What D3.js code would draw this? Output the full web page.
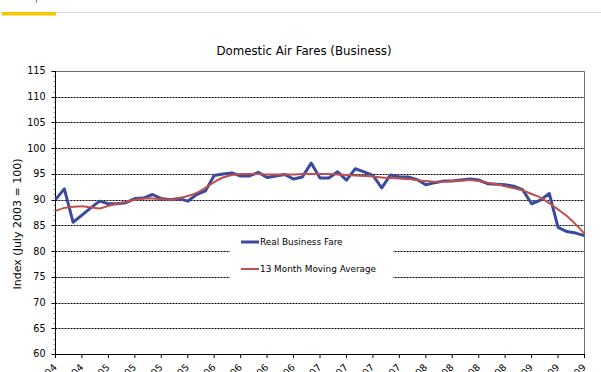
<!DOCTYPE html>
<html>
<head>
<meta charset="utf-8">
<script src="https://cdn.jsdelivr.net/npm/d3@7"></script>
<style>
  body { margin: 0; background: #fff; }
  svg { display: block; font-family: "DejaVu Sans", Verdana, sans-serif; }
</style>
</head>
<body>
<svg id="chart" width="601" height="372"></svg>
<script>
// index values, one per month (Jul 2004 .. Jul 2009), July 2003 = 100
var realFare = [90.0, 92.1, 85.6, 87.0, 88.4, 89.7, 89.2, 89.2, 89.4, 90.2,
    90.3, 91.0, 90.2, 90.0, 90.2, 89.7, 91.0, 91.7, 94.7, 95.0,
    95.2, 94.6, 94.6, 95.3, 94.3, 94.6, 94.9, 94.0, 94.4, 97.1,
    94.2, 94.2, 95.4, 93.8, 96.0, 95.4, 94.7, 92.3, 94.8, 94.4,
    94.4, 93.9, 92.9, 93.3, 93.6, 93.6, 93.8, 94.0, 93.8, 93.1,
    93.0, 92.9, 92.6, 91.9, 89.2, 89.9, 91.2, 84.6, 83.8, 83.5, 83.0];
var movingAvg = [87.8, 88.4, 88.6, 88.7, 88.5, 88.3, 88.8, 89.2, 89.6, 90.0,
    90.2, 90.2, 90.1, 90.0, 90.3, 90.7, 91.3, 92.3, 93.4, 94.3,
    94.8, 95.0, 95.0, 95.0, 94.9, 94.9, 94.9, 94.9, 95.0, 95.0,
    95.0, 95.0, 94.9, 94.8, 94.7, 94.6, 94.5, 94.3, 94.2, 94.1,
    94.0, 93.8, 93.6, 93.5, 93.5, 93.6, 93.7, 93.8, 93.6, 93.3,
    93.0, 92.6, 92.2, 91.8, 91.1, 90.4, 89.3, 88.1, 86.8, 85.2, 83.4];
// quarterly tick labels
var xLabels = ['Jul-04', 'Oct-04', 'Jan-05', 'Apr-05', 'Jul-05', 'Oct-05',
    'Jan-06', 'Apr-06', 'Jul-06', 'Oct-06', 'Jan-07', 'Apr-07', 'Jul-07',
    'Oct-07', 'Jan-08', 'Apr-08', 'Jul-08', 'Oct-08', 'Jan-09', 'Apr-09', 'Jul-09'];
var yTicks = [60, 65, 70, 75, 80, 85, 90, 95, 100, 105, 110, 115];
var seriesNames = ['Real Business Fare', '13 Month Moving Average'];

(function (d3) {
    'use strict';

    var svg = d3.select('#chart');
    var left = 55.5, right = 584.5, top = 71, bottom = 354;

    var x = d3.scaleLinear().domain([0, realFare.length - 1]).range([left, right]);
    var y = d3.scaleLinear().domain([60, 115]).range([bottom, top]);

    // page header decoration
    svg.append('line').attr('x1', 0).attr('x2', 601).attr('y1', 12.5).attr('y2', 12.5)
        .style('stroke', '#dcdcdc').style('stroke-width', 1);
    svg.append('rect').attr('x', 2).attr('y', 12).attr('width', 54).attr('height', 3.5)
        .style('fill', '#f7c600');
    svg.append('line').attr('x1', 36.5).attr('x2', 36.5).attr('y1', 0).attr('y2', 3)
        .style('stroke', '#7a8290');

    // title
    svg.append('text').attr('x', 304).attr('y', 55).attr('text-anchor', 'middle')
        .style('font-size', '11.8px').style('fill', '#000')
        .text('Domestic Air Fares (Business)');

    // gridlines
    svg.append('g').selectAll('line').data(yTicks.filter(function (v) { return v > 60 && v < 115; }))
        .enter().append('line')
        .attr('x1', left).attr('x2', right)
        .attr('y1', function (d) { return Math.round(y(d)) + 0.5; })
        .attr('y2', function (d) { return Math.round(y(d)) + 0.5; })
        .style('stroke', '#000').style('stroke-width', 1).style('stroke-dasharray', '2,1');

    // plot border (top + right)
    svg.append('path')
        .attr('d', 'M' + left + ',' + (top + 0.5) + 'H' + right + 'V' + bottom)
        .style('fill', 'none').style('stroke', '#6e6e6e').style('stroke-width', 1);

    // y axis
    var yAxis = svg.append('g');
    yAxis.selectAll('line.minor').data(d3.range(60, 116)).enter().append('line')
        .attr('x1', left - 2).attr('x2', left)
        .attr('y1', function (d) { return Math.round(y(d)) + 0.5; })
        .attr('y2', function (d) { return Math.round(y(d)) + 0.5; })
        .style('stroke', '#999');
    yAxis.selectAll('line.major').data(yTicks).enter().append('line')
        .attr('x1', left - 4).attr('x2', left)
        .attr('y1', function (d) { return Math.round(y(d)) + 0.5; })
        .attr('y2', function (d) { return Math.round(y(d)) + 0.5; })
        .style('stroke', '#000');
    yAxis.append('line').attr('x1', left).attr('x2', left).attr('y1', top).attr('y2', bottom)
        .style('stroke', '#000');
    yAxis.selectAll('text').data(yTicks).enter().append('text')
        .attr('x', 45.5).attr('y', function (d) { return y(d); })
        .attr('dy', '0.36em').attr('text-anchor', 'end')
        .style('font-size', '9.6px').style('fill', '#000')
        .text(function (d) { return d; });

    svg.append('text')
        .attr('transform', 'translate(21,224) rotate(-90)')
        .attr('text-anchor', 'middle')
        .style('font-size', '11px').style('fill', '#000')
        .text('Index (July 2003 = 100)');

    // x axis
    var xAxis = svg.append('g');
    xAxis.append('line').attr('x1', left).attr('x2', right)
        .attr('y1', bottom + 0.5).attr('y2', bottom + 0.5).style('stroke', '#000');
    xAxis.selectAll('line.tick').data(xLabels).enter().append('line')
        .attr('x1', function (d, i) { return x(i * 3); })
        .attr('x2', function (d, i) { return x(i * 3); })
        .attr('y1', bottom).attr('y2', bottom + 4)
        .style('stroke', '#000');
    xAxis.selectAll('text').data(xLabels).enter().append('text')
        .attr('transform', function (d, i) {
            return 'translate(' + (x(i * 3) + 2) + ',' + (bottom + 14) + ') rotate(-45)';
        })
        .attr('text-anchor', 'end')
        .style('font-size', '9.6px').style('fill', '#000')
        .text(function (d) { return d; });

    // series
    svg.append('path').datum(realFare)
        .attr('d', d3.line().x(function (d, i) { return x(i); }).y(function (d) { return y(d); }))
        .style('fill', 'none').style('stroke', '#3a4a9e').style('stroke-width', 3)
        .style('stroke-linejoin', 'round');
    svg.append('path').datum(movingAvg)
        .attr('d', d3.line().curve(d3.curveMonotoneX)
            .x(function (d, i) { return x(i); }).y(function (d) { return y(d); }))
        .style('fill', 'none').style('stroke', '#c0504d').style('stroke-width', 2);

    // legend
    var legend = svg.append('g');
    legend.append('rect').attr('x', 230).attr('y', 229).attr('width', 163).attr('height', 51)
        .style('fill', '#fff');
    var colors = ['#3a4a9e', '#c0504d'];
    var widths = [3, 2];
    seriesNames.forEach(function (name, i) {
        var ly = 242 + i * 27;
        legend.append('line').attr('x1', 241).attr('x2', 259).attr('y1', ly).attr('y2', ly)
            .style('stroke', colors[i]).style('stroke-width', widths[i]);
        legend.append('text').attr('x', 260).attr('y', ly).attr('dy', '0.36em')
            .style('font-size', '8.9px').style('fill', '#000')
            .text(name);
    });
}(window.d3));
</script>
</body>
</html>
